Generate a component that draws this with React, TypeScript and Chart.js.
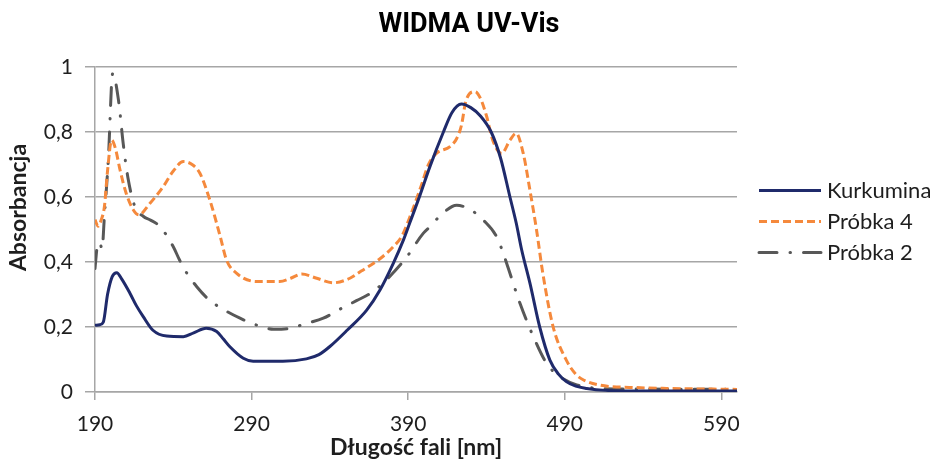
import React, { useEffect, useRef } from "react";
import { Chart, registerables } from "chart.js";

Chart.register(...registerables);

const chartTitle = "WIDMA UV-Vis";
const xTitle = "Długość fali [nm]";
const yTitle = "Absorbancja";
const seriesNames = ["Kurkumina", "Próbka 4", "Próbka 2"];
const xTicks = [190, 290, 390, 490, 590];

const kurkuminaX = [190, 193, 195.3, 198, 201, 203.9, 207, 212.3, 216.5, 220.8, 227, 235.8, 246.4, 253, 261, 267.7, 272, 276, 284.7, 291, 310, 325, 333, 340, 351, 363.5, 372, 380.5, 387, 391, 397.5, 404, 412.5, 418, 424, 430, 436, 443, 449, 455, 459, 462.5, 467.8, 474, 480.5, 486, 491, 497, 504, 516, 540, 600];
const kurkuminaY = [0.205, 0.207, 0.215, 0.3, 0.355, 0.367, 0.348, 0.304, 0.265, 0.232, 0.19, 0.172, 0.17, 0.182, 0.196, 0.186, 0.163, 0.14, 0.104, 0.095, 0.095, 0.102, 0.115, 0.14, 0.19, 0.252, 0.314, 0.396, 0.468, 0.52, 0.605, 0.695, 0.8, 0.86, 0.886, 0.875, 0.85, 0.8, 0.72, 0.6, 0.52, 0.437, 0.334, 0.2, 0.098, 0.055, 0.032, 0.018, 0.011, 0.005, 0.003, 0.003];

const probka4X = [190, 192, 194, 196, 198, 200.6, 203, 206, 210, 214.5, 218, 225, 233.6, 240, 246.4, 252, 257, 263.4, 270, 274, 280.5, 293, 308, 315, 322, 331.6, 342, 352.8, 360, 372, 380.5, 386, 392, 398, 403, 408, 416.7, 421, 424, 427, 432.7, 436, 440, 444, 449.7, 455, 459, 463.5, 467.8, 472, 476, 482.6, 491, 497, 502, 512.5, 533.7, 555, 600];
const probka4Y = [0.53, 0.51, 0.53, 0.57, 0.68, 0.775, 0.75, 0.683, 0.61, 0.56, 0.545, 0.58, 0.632, 0.68, 0.709, 0.7, 0.673, 0.59, 0.478, 0.406, 0.365, 0.34, 0.34, 0.35, 0.363, 0.35, 0.336, 0.35, 0.372, 0.41, 0.447, 0.48, 0.55, 0.63, 0.7, 0.734, 0.755, 0.78, 0.82, 0.898, 0.924, 0.905, 0.85, 0.775, 0.734, 0.775, 0.796, 0.734, 0.62, 0.498, 0.365, 0.2, 0.098, 0.055, 0.037, 0.021, 0.014, 0.011, 0.008];

const probka2X = [190, 191.5, 193, 194.5, 196, 198.5, 201.3, 205, 208, 211, 215.5, 221, 225, 231.5, 240, 244, 248.5, 255, 263, 272, 282.6, 295, 304, 314.5, 325, 335.8, 346.5, 357, 366, 374, 381, 389, 399.6, 404, 410, 421, 431.6, 438, 446.5, 450.7, 454, 461.4, 470, 478.4, 487, 497.6, 512.5, 540, 600];
const probka2Y = [0.38, 0.45, 0.46, 0.44, 0.54, 0.714, 0.98, 0.898, 0.765, 0.66, 0.57, 0.54, 0.53, 0.509, 0.447, 0.406, 0.367, 0.324, 0.283, 0.254, 0.227, 0.203, 0.193, 0.196, 0.211, 0.227, 0.255, 0.281, 0.304, 0.335, 0.37, 0.415, 0.488, 0.509, 0.54, 0.575, 0.555, 0.529, 0.478, 0.427, 0.38, 0.273, 0.17, 0.088, 0.047, 0.022, 0.011, 0.009, 0.008];

const toPoints = (xs: number[], ys: number[]) => xs.map((x, i) => ({ x, y: ys[i] }));

const FONT = "Lato, 'Open Sans', sans-serif";
const GRID = "#a6a6a6";
const TEXT = "#1e1e1e";

const sideLegend = {
  id: "sideLegend",
  afterDraw(chart: any) {
    const ctx = chart.ctx as CanvasRenderingContext2D;
    const area = chart.chartArea;
    const mid = (area.top + area.bottom) / 2 - 8;
    const gap = 31;
    const x0 = area.right + 22;
    const len = 62;
    chart.data.datasets.forEach((ds: any, i: number) => {
      const y = mid + (i - 1) * gap;
      ctx.save();
      ctx.strokeStyle = ds.borderColor;
      ctx.lineWidth = ds.borderWidth;
      ctx.lineCap = ds.borderCapStyle || "butt";
      ctx.setLineDash(ds.borderDash || []);
      ctx.beginPath();
      ctx.moveTo(x0, y);
      ctx.lineTo(x0 + len, y);
      ctx.stroke();
      ctx.setLineDash([]);
      ctx.fillStyle = TEXT;
      ctx.font = `22px ${FONT}`;
      ctx.textBaseline = "middle";
      ctx.textAlign = "left";
      ctx.fillText(ds.label, x0 + len + 6, y);
      ctx.restore();
    });
    // y-axis title
    ctx.save();
    ctx.translate(19, (area.top + area.bottom) / 2 - 22);
    ctx.rotate(-Math.PI / 2);
    ctx.fillStyle = TEXT;
    ctx.font = `bold 23px ${FONT}`;
    ctx.textAlign = "center";
    ctx.textBaseline = "middle";
    ctx.fillText(yTitle, 0, 0);
    ctx.restore();
  },
};

export default function App() {
  const ref = useRef<HTMLCanvasElement | null>(null);

  useEffect(() => {
    document.body.style.margin = "0";
    const canvas = ref.current;
    if (!canvas) return;
    const chart = new Chart(canvas, {
      type: "line",
      data: {
        datasets: [
          {
            label: seriesNames[0],
            data: toPoints(kurkuminaX, kurkuminaY),
            borderColor: "#1f2a6b",
            borderWidth: 3,
            pointRadius: 0,
            cubicInterpolationMode: "monotone",
            fill: false,
          },
          {
            label: seriesNames[1],
            data: toPoints(probka4X, probka4Y),
            borderColor: "#f5893c",
            borderWidth: 3,
            borderDash: [8, 4],
            pointRadius: 0,
            cubicInterpolationMode: "monotone",
            fill: false,
          },
          {
            label: seriesNames[2],
            data: toPoints(probka2X, probka2Y),
            borderColor: "#585858",
            borderWidth: 3,
            borderDash: [18, 13, 0.5, 13],
            borderCapStyle: "round",
            pointRadius: 0,
            cubicInterpolationMode: "monotone",
            fill: false,
          },
        ],
      },
      options: {
        responsive: false,
        animation: false,
        layout: { padding: 0 },
        plugins: {
          legend: { display: false },
          tooltip: { enabled: false },
          title: {
            display: true,
            text: chartTitle,
            color: "#000",
            font: { family: "Roboto, 'Liberation Sans', sans-serif", size: 27, weight: "bold", lineHeight: 1.2 },
            padding: { top: 8.8, bottom: 25.8 },
          },
        },
        scales: {
          x: {
            type: "linear",
            min: 190,
            max: 600,
            afterBuildTicks: (scale: any) => {
              scale.ticks = xTicks.map((v) => ({ value: v }));
            },
            afterFit: (scale: any) => {
              scale.height = 71;
            },
            grid: { drawOnChartArea: false, drawTicks: true, tickLength: 8, color: GRID, lineWidth: 1.5 },
            border: { display: true, color: GRID, width: 1.5 },
            ticks: {
              color: TEXT,
              font: { family: FONT, size: 21 },
              padding: 12,
              maxRotation: 0,
              autoSkip: false,
              callback: (v: any) => String(v),
            },
            title: {
              display: true,
              text: xTitle,
              color: TEXT,
              font: { family: FONT, size: 23, weight: "bold", lineHeight: 1.2 },
              padding: { top: 0, bottom: 2 },
            },
          },
          y: {
            min: 0,
            max: 1,
            afterFit: (scale: any) => {
              scale.width = 95;
            },
            grid: { drawTicks: true, tickLength: 10, color: GRID, lineWidth: 1.5 },
            border: { display: true, color: GRID, width: 1.5 },
            ticks: {
              stepSize: 0.2,
              color: TEXT,
              font: { family: FONT, size: 21 },
              padding: 12,
              callback: (v: any) => String(Number(Number(v).toFixed(1))).replace(".", ","),
            },
          },
          legendSpace: {
            type: "linear",
            position: "right",
            display: true,
            min: 0,
            max: 1,
            afterFit: (scale: any) => {
              scale.width = 201;
            },
            grid: { display: false, drawTicks: false },
            border: { display: false },
            ticks: { display: false },
          },
        },
      },
      plugins: [sideLegend],
    } as any);
    return () => chart.destroy();
  }, []);

  return (
    <div style={{ width: 938, height: 463, position: "relative" }}>
      <canvas ref={ref} width={938} height={463} style={{ display: "block" }} />
    </div>
  );
}
